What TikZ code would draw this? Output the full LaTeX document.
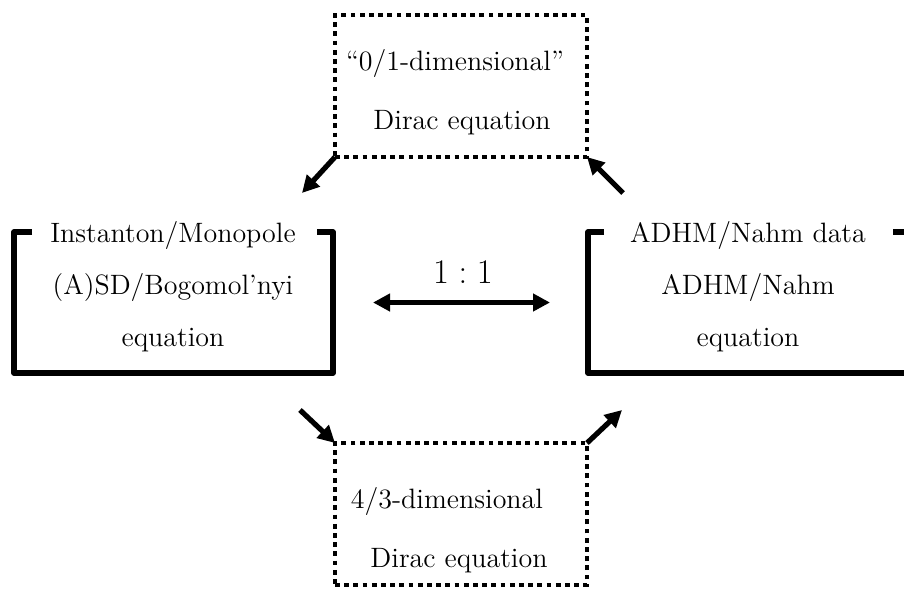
\documentclass[tikz,border=0pt]{standalone}
\usetikzlibrary{arrows.meta}
\tikzset{
  frame/.style={minimum width=159.5pt, minimum height=70.5pt, inner sep=0pt, outer sep=0pt},
  bracket/.style={line width=2.6pt, line join=round},
  dotbox/.style={draw, line width=2.3pt, dash pattern=on 2.4pt off 2.2pt,
    minimum width=126pt, minimum height=71pt, inner sep=0pt, outer sep=0pt},
  txt/.style={align=center, font=\fontsize{14}{26}\selectfont},
  dtxt/.style={align=center, font=\fontsize{14}{29.5}\selectfont},
  link/.style={line width=2.6pt, -{Triangle[length=8.5pt,width=8.5pt]}}
}
\begin{document}
\begin{tikzpicture}[x=0.5pt,y=-0.5pt]
\clip (0,0) rectangle (904,590);
\node[frame] (inst) at (173.5,302.5) {};
\node[frame] (adhm) at (747.5,302.5) {};
\node[dotbox] (dirac0) at (461,86) {};
\node[dotbox] (dirac43) at (461,514) {};
\node[dtxt] (dirac0text) at (459,92) {``0/1-dimensional''\hspace*{4pt}\\ \hspace*{3pt}Dirac equation};
\node[dtxt] (dirac43text) at (457,530) {4/3-dimensional\hspace*{10pt}\\ \hspace*{2pt}Dirac equation};
\node[txt] (insttext) at (173,287) {Instanton/Monopole\\(A)SD/Bogomol'nyi\\equation};
\node[txt] (adhmtext) at (748,287) {ADHM/Nahm data\\ADHM/Nahm\\equation};
\node[font=\fontsize{19}{22}\selectfont] (ratio) at (463,272) {$1:1$};
\coordinate (tl) at (302,193);
\coordinate (tr) at (623,193);
\coordinate (bl) at (300,410);
\coordinate (br) at (622,410);

\draw[bracket]
  ([xshift=9pt]inst.north west) -- (inst.north west) -- (inst.south west)
  -- (inst.south east) -- (inst.north east) -- ++(-8pt,0)
  ([xshift=8pt]adhm.north west) -- (adhm.north west) -- (adhm.south west)
  -- (adhm.south east) -- (adhm.north east) -- ++(-7pt,0);
\draw[link] (dirac0.south west) -- (tl);
\draw[link] (tr) -- (dirac0.south east);
\draw[link] (bl) -- (dirac43.north west);
\draw[link] (dirac43.north east) -- (br);
\draw[link, {Triangle[length=8.5pt,width=8.5pt]}-{Triangle[length=8.5pt,width=8.5pt]},
  shorten <=20pt, shorten >=19pt] (inst) -- (adhm);
\end{tikzpicture}
\end{document}
